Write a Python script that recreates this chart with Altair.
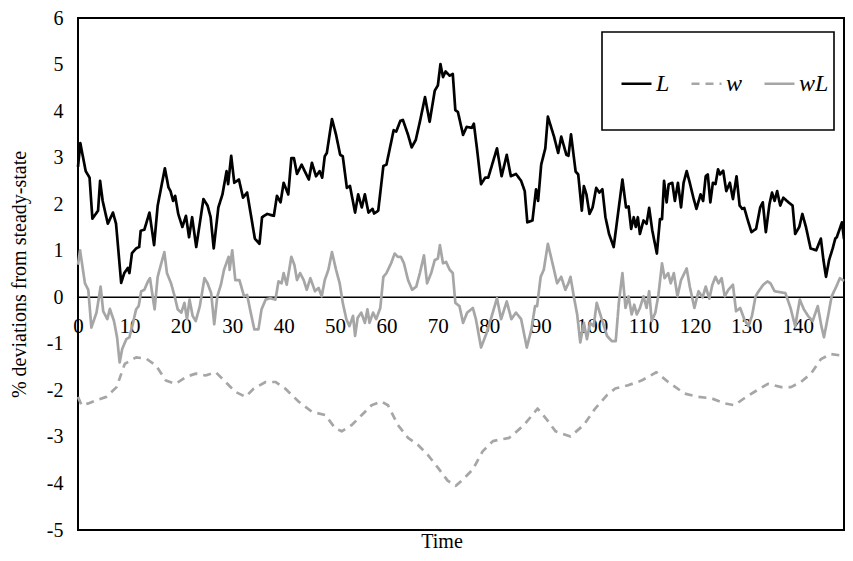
import altair as alt
import pandas as pd

# ---- data ----
L_t = [0, 0.45, 1.5, 2.25, 2.8, 3.9, 4.3, 4.8, 5.8, 6.8, 7.4, 8.4, 9.0, 9.7, 10.0, 10.5, 11.3, 11.9, 12.2, 12.9,
       13.9, 14.8, 15.5, 16.3, 16.9, 17.6, 18.0, 18.5, 18.9, 19.5, 20.3, 21.0, 21.6, 22.2, 23.0, 24.4, 25.2, 25.8,
       26.4, 27.3, 28.1, 28.9, 29.2, 29.8, 30.4, 31.3, 32.1, 32.9, 33.6, 34.4, 35.3, 35.8, 36.8, 38.1, 38.7, 39.4,
       40.0, 40.9, 41.5, 42.0, 42.6, 43.5, 44.1, 44.9, 45.5, 46.3, 47.0, 47.5, 48.0, 48.4, 49.4, 50.2, 51.0, 51.5,
       52.3, 52.9, 53.9, 54.5, 55.2, 55.8, 56.5, 57.3, 57.6, 58.4, 59.4, 60.0, 61.4, 61.9, 62.7, 63.2, 64.2, 64.9,
       65.7, 66.5, 67.5, 68.4, 69.4, 70.0, 70.5, 71.0, 71.5, 72.3, 72.9, 73.4, 73.9, 74.9, 75.6, 76.6, 77.0, 77.6,
       78.4, 79.2, 79.8, 81.5, 82.4, 83.4, 84.2, 85.2, 86.2, 86.9, 87.4, 88.4, 89.1, 89.5, 90.1, 90.9, 91.4, 92.6,
       93.4, 94.0, 95.0, 95.4, 95.9, 96.8, 97.3, 98.0, 98.4, 98.9, 99.5, 100.1, 100.8, 101.4, 102.0, 102.6, 103.3,
       104.2, 105.2, 105.9, 106.6, 107.1, 107.6, 108.1, 108.5, 108.9, 109.3, 110.0, 110.6, 111.1, 111.7, 112.6,
       113.2, 113.6, 114.0, 114.5, 114.9, 115.6, 116.1, 116.7, 117.3, 117.8, 118.4, 119.0, 119.7, 120.3, 121.1,
       121.6, 122.1, 122.5, 123.0, 123.5, 124.0, 124.5, 124.9, 125.5, 126.1, 126.8, 127.4, 128.1, 128.7, 129.2,
       129.6, 130.3, 131.0, 131.9, 132.7, 133.2, 133.8, 134.5, 135.0, 135.5, 136.0, 136.6, 137.2, 138.2, 139.0,
       139.5, 140.3, 140.9, 141.6, 142.5, 143.6, 144.5, 145.0, 145.5, 146.1, 146.8, 147.3, 147.6, 148.6, 149.0]
L_v = [2.8, 3.31, 2.71, 2.57, 1.69, 1.86, 2.5, 2.07, 1.58, 1.82, 1.58, 0.31, 0.52, 0.63, 0.52, 0.95, 1.05, 1.08, 1.43, 1.45,
       1.82, 1.12, 1.97, 2.43, 2.77, 2.36, 2.28, 2.07, 2.18, 1.79, 1.51, 1.75, 1.29, 1.72, 1.08, 2.11, 1.97, 1.72,
       1.05, 1.93, 2.21, 2.71, 2.43, 3.04, 2.46, 2.53, 2.14, 2.25, 1.79, 1.26, 1.15, 1.72, 1.79, 1.75, 2.18, 2.04,
       2.46, 2.21, 2.99, 2.99, 2.65, 2.85, 2.71, 2.53, 2.89, 2.6, 2.71, 2.57, 3.03, 3.1, 3.83, 3.49, 3.06, 3.03,
       2.35, 2.39, 1.82, 2.21, 1.93, 2.21, 1.82, 1.9, 1.8, 1.86, 2.82, 2.85, 3.59, 3.56, 3.79, 3.81, 3.49, 3.22,
       3.38, 3.77, 4.3, 3.77, 4.44, 4.55, 5.01, 4.73, 4.85, 4.76, 4.8, 4.02, 3.98, 3.49, 3.66, 3.64, 3.73, 3.2,
       2.43, 2.57, 2.57, 3.2, 2.6, 3.06, 2.6, 2.65, 2.5, 2.28, 1.61, 1.65, 2.32, 2.07, 2.85, 3.2, 3.88, 3.45,
       3.1, 3.45, 3.06, 3.04, 3.5, 2.7, 2.64, 1.86, 2.39, 2.21, 1.79, 1.93, 2.35, 2.25, 2.32, 1.72, 1.36,
       1.08, 1.93, 2.53, 1.93, 1.95, 1.47, 1.72, 1.51, 1.72, 1.36, 1.65, 1.58, 1.92, 1.44, 0.94,
       1.68, 1.68, 2.5, 2.04, 2.43, 2.46, 2.07, 2.46, 1.93, 2.46, 2.71, 2.46, 2.14, 1.9, 2.21,
       2.07, 2.6, 2.64, 2.04, 2.46, 2.43, 2.75, 2.64, 2.72, 2.28, 2.46, 2.11, 2.6, 1.97, 1.9,
       1.92, 1.65, 1.4, 1.47, 1.93, 2.04, 1.4, 2.0, 2.25, 2.07, 2.28, 1.97, 2.14, 2.04, 1.97,
       1.36, 1.51, 1.79, 1.51, 1.05, 1.01, 1.26, 0.8, 0.44, 0.8, 1.05, 1.26, 1.29, 1.61, 1.25]

w_t = [0, 0.7, 2.0, 3.6, 5.5, 7.5, 9.1, 11.3, 13.3, 15.2, 17.1, 19.0, 21.0, 22.9, 24.8, 26.8, 28.7, 30.6, 32.6,
       34.2, 36.5, 38.4, 40.3, 42.9, 45.5, 48.1, 50.0, 51.3, 53.3, 55.2, 57.1, 59.0, 60.3, 62.2, 64.2, 66.1, 68.0,
       70.0, 71.9, 73.5, 74.9, 76.8, 78.7, 80.7, 83.9, 86.8, 89.4, 91.0, 92.9, 95.8, 98.4, 100.6, 102.9, 104.5,
       107.0, 109.6, 112.5, 114.8, 118.0, 120.6, 123.2, 125.8, 127.7, 129.6, 131.6, 134.2, 136.8, 138.7, 140.6,
       142.6, 144.5, 146.4, 148.4, 149.0]
w_v = [-2.14, -2.32, -2.28, -2.21, -2.14, -1.93, -1.43, -1.29, -1.32, -1.47, -1.79, -1.86, -1.71, -1.64, -1.68,
       -1.61, -1.82, -2.03, -2.14, -1.96, -1.82, -1.82, -1.96, -2.24, -2.46, -2.53, -2.81, -2.88, -2.74, -2.53,
       -2.32, -2.24, -2.32, -2.74, -3.02, -3.17, -3.38, -3.66, -3.94, -4.05, -3.91, -3.7, -3.31, -3.09, -3.02,
       -2.74, -2.39, -2.6, -2.88, -2.99, -2.74, -2.39, -2.1, -1.96, -1.89, -1.79, -1.61, -1.82, -2.07, -2.14,
       -2.17, -2.28, -2.32, -2.17, -2.03, -1.86, -1.93, -1.93, -1.82, -1.64, -1.33, -1.22, -1.25, -1.22]

wL_t = [0, 0.4, 1.35, 2.0, 2.6, 3.6, 4.4, 4.9, 5.7, 6.2, 7.0, 7.6, 8.1, 8.6, 9.4, 10.0, 10.7, 11.3, 11.8, 12.3,
        12.9, 13.6, 14.0, 14.9, 15.5, 16.2, 16.8, 17.3, 18.1, 18.8, 19.4, 20.1, 20.7, 21.2, 21.7, 22.3, 22.9, 23.7,
        24.6, 25.2, 25.9, 26.5, 27.1, 27.8, 28.4, 29.3, 29.5, 30.0, 30.6, 31.4, 32.3, 32.9, 33.6, 34.3, 35.1, 35.7,
        36.5, 37.4, 38.4, 39.0, 39.6, 40.0, 40.6, 41.5, 42.1, 42.6, 43.2, 43.9, 44.5, 45.2, 46.1, 46.8, 47.4, 48.0,
        48.7, 49.4, 50.2, 50.9, 51.5, 52.2, 52.8, 53.5, 53.9, 54.4, 55.1, 55.8, 56.3, 56.7, 57.4, 58.0, 58.8, 59.4,
        60.0, 60.9, 61.6, 62.2, 62.8, 63.4, 64.2, 65.0, 65.8, 66.5, 67.3, 67.9, 68.7, 69.4, 70.0, 70.4, 71.0, 71.6,
        72.3, 72.9, 73.4, 74.2, 74.9, 75.7, 76.8, 77.4, 78.4, 79.4, 80.3, 81.5, 82.3, 83.4, 84.3, 85.2, 86.2, 87.3,
        88.2, 88.9, 89.3, 90.0, 90.6, 91.4, 92.3, 93.2, 94.0, 94.8, 95.4, 95.8, 96.5, 97.1, 97.7, 98.4, 99.0, 99.6,
        100.3, 100.9, 101.6, 102.9, 103.8, 104.6, 105.2, 105.9, 106.5, 107.1, 107.7, 108.2, 108.7, 109.3, 110.0,
        110.6, 111.1, 111.6, 112.3, 112.9, 113.6, 114.1, 114.8, 115.3, 115.9, 116.6, 117.3, 118.4, 119.0, 119.9,
        120.7, 121.5, 122.1, 122.8, 123.4, 124.0, 124.6, 125.2, 125.8, 126.5, 127.4, 128.0, 128.8, 129.6, 130.4,
        131.1, 131.8, 132.4, 133.3, 134.1, 134.7, 135.5, 137.6, 138.6, 139.5, 140.4, 141.2, 142.0, 142.9, 143.9,
        144.6, 145.1, 145.9, 146.6, 147.5, 148.2, 149.0]
wL_v = [0.7, 1.01, 0.3, 0.16, -0.65, -0.33, 0.23, -0.3, -0.47, -0.25, -0.51, -0.86, -1.4, -1.11, -0.9, -0.86, -0.55,
        -0.26, -0.19, 0.13, 0.16, 0.34, 0.41, -0.26, 0.44, 0.73, 0.97, 0.52, 0.3, 0.02, -0.26, -0.33, -0.12, -0.47,
        -0.05, -0.4, -0.51, -0.19, 0.41, 0.3, 0.09, -0.58, 0.02, 0.27, 0.59, 0.87, 0.59, 1.01, 0.37, 0.37, 0.02,
        0.05, -0.33, -0.69, -0.69, -0.26, -0.05, -0.02, -0.05, 0.34, 0.3, 0.52, 0.27, 0.87, 0.69, 0.37, 0.52, 0.37,
        0.16, 0.41, 0.13, 0.2, 0.02, 0.37, 0.59, 0.97, 0.59, 0.3, -0.12, -0.47, -0.62, -0.4, -0.83, -0.44, -0.33,
        -0.55, -0.26, -0.55, -0.33, -0.47, -0.23, 0.44, 0.52, 0.73, 0.94, 0.87, 0.87, 0.73, 0.37, 0.16, 0.23, 0.52,
        0.9, 0.3, 0.52, 0.8, 0.83, 1.12, 0.73, 0.76, 0.59, 0.52, -0.12, -0.19, -0.55, -0.33, -0.23, -0.47, -1.08,
        -0.79, -0.47, -0.02, -0.47, -0.09, -0.47, -0.33, -0.47, -1.08, -0.69, -0.19, -0.19, 0.44, 0.59, 1.15, 0.73,
        0.3, 0.44, 0.16, 0.3, 0.44, -0.02, -0.37, -0.97, -0.55, -0.9, -0.55, -0.62, -0.12, -0.37, -0.83, -0.94,
        -0.94, -0.12, 0.52, -0.23, 0.02, -0.37, -0.16, -0.37, -0.23, 0.02, -0.23, 0.13, -0.51, -0.33, 0.05, 0.73,
        0.41, 0.52, 0.3, 0.52, 0.02, 0.37, 0.62, 0.23, -0.23, 0.13, 0.0, 0.23, -0.03, 0.27, 0.44, 0.3, 0.41, 0.02,
        0.16, 0.27, -0.3, -0.23, -0.47, -0.62, -0.4, 0.02, 0.13, 0.27, 0.34, 0.3, 0.13, 0.09, -0.23, -0.62, -0.05,
        -0.26, -0.4, -0.51, -0.19, -0.62, -0.86, -0.4, 0.02, 0.23, 0.41, 0.35]

series_names = ["L", "w", "wL"]
series_colors = ["#000000", "#A6A6A6", "#A6A6A6"]
series_dash = [[1, 0], [8, 6], [1, 0]]
x_ticks = list(range(0, 150, 10))
y_ticks = list(range(-5, 7))

X_MIN, X_MAX, Y_MIN, Y_MAX = 0, 149, -5, 6
W, H = 766, 512
FONT = "Liberation Serif"

rows = []
for name, ts, vs in [("L", L_t, L_v), ("w", w_t, w_v), ("wL", wL_t, wL_v)]:
    for t, v in zip(ts, vs):
        rows.append({"series": name, "t": t, "v": v})
df = pd.DataFrame(rows)

x_scale = alt.Scale(domain=[X_MIN, X_MAX], nice=False, zero=False)
y_scale = alt.Scale(domain=[Y_MIN, Y_MAX], nice=False)
x_offset = -H * (0 - Y_MIN) / (Y_MAX - Y_MIN)
minus_fix = "datum.value < 0 ? '-' + (-datum.value) : '' + datum.value"

zero = alt.Chart(pd.DataFrame({"z": [0]})).mark_rule(color="black", strokeWidth=1.3).encode(
    y=alt.Y("z:Q", scale=y_scale)
)

legend_cfg = dict(title=None, orient="none", legendX=542, legendY=49,
                  direction="horizontal", symbolType="stroke", symbolSize=900,
                  symbolStrokeWidth=2.7, labelFont=FONT, labelFontSize=24,
                  labelFontStyle="italic", labelColor="black", labelOffset=3,
                  columnPadding=16, padding=0)

lines = alt.Chart(df).mark_line(strokeWidth=2.7, strokeJoin="round").encode(
    x=alt.X("t:Q", scale=x_scale,
            axis=alt.Axis(values=x_ticks, title=None, offset=x_offset, domain=False, ticks=False,
                          labelPadding=18, labelFont=FONT, labelFontSize=21, labelColor="black",
                          labelFlush=False, grid=False)),
    y=alt.Y("v:Q", scale=y_scale,
            axis=alt.Axis(values=y_ticks, title="% deviations from steady-state", domain=False, ticks=False,
                          labelPadding=15, labelFont=FONT, labelFontSize=20, labelColor="black", grid=False,
                          labelExpr=minus_fix,
                          titleFont=FONT, titleFontSize=20, titleFontWeight="normal", titleColor="black",
                          titleAngle=270, titleX=-59, titleY=H / 2, titleAlign="center",
                          titleBaseline="middle")),
    color=alt.Color("series:N", scale=alt.Scale(domain=series_names, range=series_colors),
                    legend=alt.Legend(**legend_cfg)),
    strokeDash=alt.StrokeDash("series:N", scale=alt.Scale(domain=series_names, range=series_dash),
                              legend=alt.Legend(**legend_cfg)),
)

legend_box = alt.Chart(pd.DataFrame({"k": [0]})).mark_rect(
    fill="white", stroke="black", strokeWidth=1.6
).encode(x=alt.value(524), x2=alt.value(756), y=alt.value(14), y2=alt.value(112))

chart = alt.layer(zero, lines, legend_box).properties(
    width=W, height=H,
    title=alt.TitleParams(text="Time", orient="bottom", anchor="middle", font=FONT, fontSize=20,
                          fontWeight="normal", color="black", offset=-8, dx=-19),
    autosize=alt.AutoSizeParams(type="none"),
    padding={"left": 70, "top": 10, "right": 1, "bottom": 23},
).configure(background="white").configure_view(stroke="black", strokeWidth=2)

chart.save("out.html", embed_options={"renderer": "svg", "actions": False})
